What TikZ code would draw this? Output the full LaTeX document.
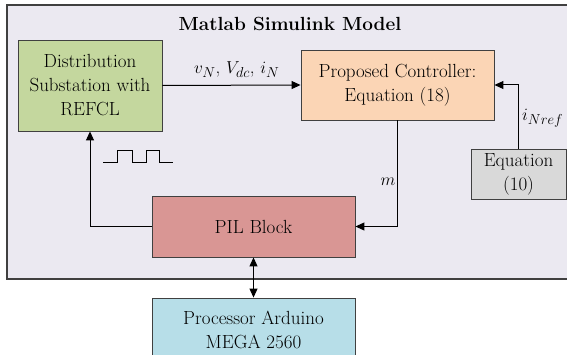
\documentclass[tikz,border=0pt]{standalone}
\usetikzlibrary{arrows.meta}
\definecolor{bgc}{HTML}{EBE9F1}
\definecolor{grc}{HTML}{C4D79E}
\definecolor{orc}{HTML}{FBD5B5}
\definecolor{gyc}{HTML}{D9D9D9}
\definecolor{pkc}{HTML}{D99694}
\definecolor{blc}{HTML}{B7DEE8}
\definecolor{edgec}{HTML}{404040}
\tikzset{
  blockbox/.style={draw=edgec, line width=0.9pt, align=center, inner sep=0pt,
    font=\fontsize{19}{24}\selectfont},
  conn/.style={line width=1pt, draw=black},
  tip/.style={-{Triangle[length=9pt,width=8pt]}},
  lbl/.style={font=\fontsize{19}{24}\selectfont, inner sep=0pt}
}
\begin{document}
\begin{tikzpicture}[x=1pt,y=-1pt]
\useasboundingbox (0,0) rectangle (567,355);
\draw[fill=bgc, draw=edgec, line width=1.2pt] (7,5) rectangle (575,279);
\node[font=\fontsize{19}{24}\selectfont\bfseries, inner sep=0pt] (title) at (290,24) {Matlab Simulink Model};
\node[blockbox, fill=grc, minimum width=144pt, minimum height=91pt] (grn) at (90,85.5) {Distribution\\Substation with\\REFCL};
\node[blockbox, fill=orc, minimum width=193pt, minimum height=70pt] (ctl) at (397.5,85) {Proposed Controller:\\Equation (18)};
\node[blockbox, fill=gyc, minimum width=95pt, minimum height=50pt] (eqn) at (518.5,174) {Equation\\(10)};
\node[blockbox, fill=pkc, minimum width=203pt, minimum height=61pt] (pil) at (253.5,226.5) {PIL Block};
\node[blockbox, fill=blc, minimum width=203pt, minimum height=64pt] (ard) at (253.5,330) {Processor Arduino\\MEGA 2560};
% connectors
\draw[conn, tip] (grn.east) -- (ctl.west);
\draw[conn, tip] (ctl.south) |- (pil.east);
\draw[conn, tip] (pil.west) -| (grn.south);
\draw[conn, tip] (eqn.north) |- (ctl.east);
\draw[conn, {Triangle[length=9pt,width=8pt]}-{Triangle[length=9pt,width=8pt]}] (pil.south) -- (ard.north);
% labels
\node[lbl, anchor=west] (lv) at (194,70) {$v_N$, $V_{dc}$, $i_N$};
\node[lbl] (lm) at (388,182) {$m$};
\node[lbl, anchor=west] (li) at (522,118) {$i_{Nref}$};
% pulse train
\draw[line width=1pt] (103,163) -- (117,163) -- (117,151) -- (132,151) -- (132,163) -- (146,163) -- (146,151) -- (159,151) -- (159,163) -- (173,163);
\end{tikzpicture}
\end{document}
